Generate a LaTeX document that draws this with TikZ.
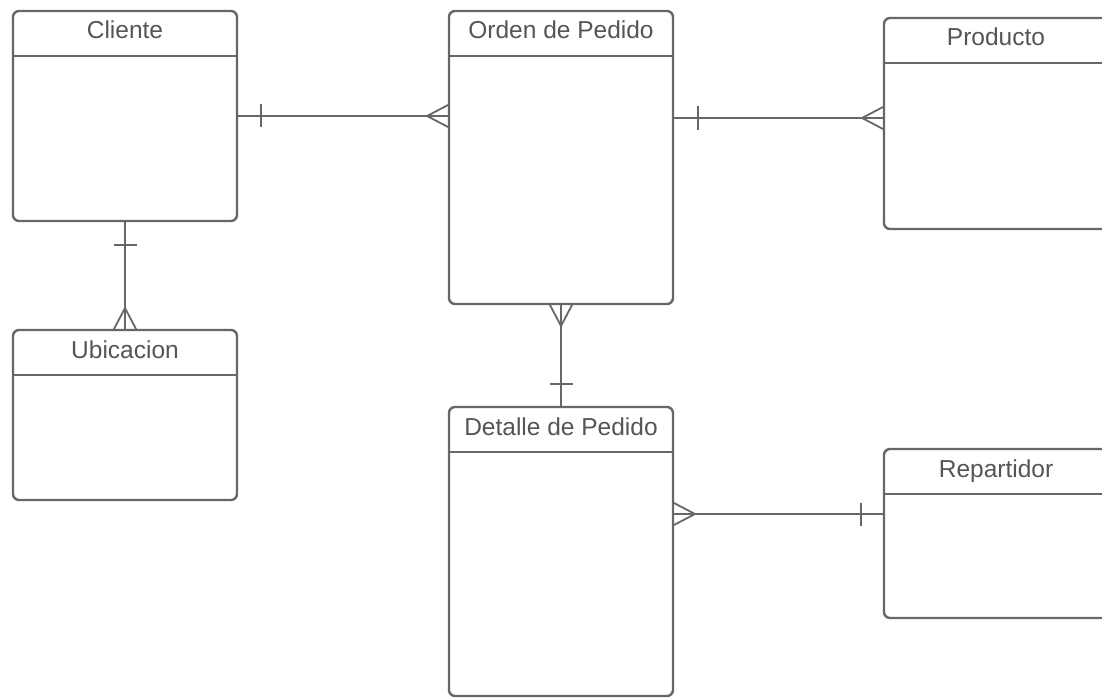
\documentclass[tikz,border=0pt]{standalone}
\usepackage{fontspec}
\setmainfont{Liberation Sans}
\usetikzlibrary{calc}
\definecolor{edgegray}{HTML}{676767}
\definecolor{textgray}{HTML}{555555}
\tikzset{
  entity/.style={draw=edgegray, line width=2.4pt, rounded corners=6pt, fill=white,
    minimum width=224pt, anchor=north west, inner sep=0pt, outer sep=0pt},
  headtext/.style={anchor=base, text=textgray, font=\fontsize{24.5}{28}\selectfont, inner sep=0pt},
  headline/.style={draw=edgegray, line width=2.4pt},
  conn/.style={draw=edgegray, line width=1.8pt},
  crowfoot/.pic={\draw[conn] (0,-11.5) -- (-22,0) -- (0,11.5);},
  onetick/.pic={\draw[conn] (0,-11.5) -- (0,11.5);},
}
\begin{document}
\begin{tikzpicture}[x=1pt,y=-1pt]
\clip (0,0) rectangle (1102,698);
\fill[white] (0,0) rectangle (1102,698);

% entities
\node[entity, minimum height=210pt] (cliente)    at (13,11)   {};
\node[entity, minimum height=293pt] (orden)      at (449,11)  {};
\node[entity, minimum height=211pt] (producto)   at (884,18)  {};
\node[entity, minimum height=170pt] (ubicacion)  at (13,330)  {};
\node[entity, minimum height=289pt] (detalle)    at (449,407) {};
\node[entity, minimum height=169pt] (repartidor) at (884,449) {};

% header separators and titles
\foreach \e in {cliente,orden,producto,ubicacion,detalle,repartidor}{
  \draw[headline] ([yshift=-45pt]\e.north west) -- ([yshift=-45pt]\e.north east);
}
\node[headtext] (clienteT)    at ([yshift=-28pt]cliente.north)    {Cliente};
\node[headtext] (ordenT)      at ([yshift=-28pt]orden.north)      {Orden de Pedido};
\node[headtext] (productoT)   at ([yshift=-28pt]producto.north)   {Producto};
\node[headtext] (ubicacionT)  at ([yshift=-28pt]ubicacion.north)  {Ubicacion};
\node[headtext] (detalleT)    at ([yshift=-28pt]detalle.north)    {Detalle de Pedido};
\node[headtext] (repartidorT) at ([yshift=-28pt]repartidor.north) {Repartidor};

% Cliente -- Orden de Pedido
\draw[conn] (cliente.east) -- (cliente.east -| orden.west);
\pic at ([xshift=24pt]cliente.east) {onetick};
\pic at (cliente.east -| orden.west) {crowfoot};

% Orden de Pedido -- Producto
\coordinate (op) at ([yshift=-107pt]orden.north east);
\draw[conn] (op) -- (op -| producto.west);
\pic at ([xshift=25pt]op) {onetick};
\pic at (op -| producto.west) {crowfoot};

% Cliente -- Ubicacion
\draw[conn] (cliente.south) -- (cliente.south |- ubicacion.north);
\pic[rotate=90] at ([yshift=-24pt]cliente.south) {onetick};
\pic[rotate=-90] at (cliente.south |- ubicacion.north) {crowfoot};

% Orden de Pedido -- Detalle de Pedido
\draw[conn] (orden.south) -- (orden.south |- detalle.north);
\pic[rotate=90] at ([yshift=23pt]orden.south |- detalle.north) {onetick};
\pic[rotate=90] at (orden.south) {crowfoot};

% Detalle de Pedido -- Repartidor
\coordinate (dr) at ([yshift=-65pt]repartidor.north west);
\draw[conn] (dr -| detalle.east) -- (dr);
\pic at ([xshift=-23pt]dr) {onetick};
\pic[rotate=180] at (dr -| detalle.east) {crowfoot};
\end{tikzpicture}
\end{document}
